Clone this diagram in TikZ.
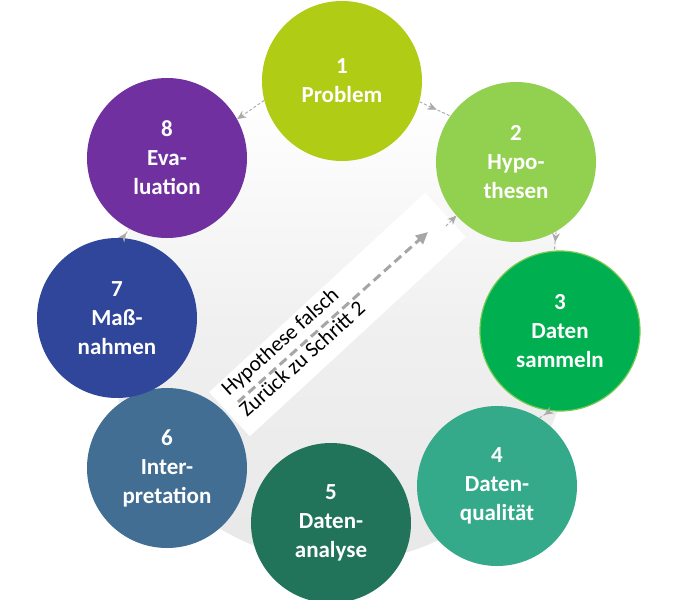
\documentclass[tikz,border=0pt]{standalone}
\usepackage{fontspec}
\setmainfont{Carlito}
\usetikzlibrary{arrows.meta,decorations.markings}
\definecolor{cA}{HTML}{B0CC14}
\definecolor{cB}{HTML}{92D050}
\definecolor{cC}{HTML}{00B050}
\definecolor{cD}{HTML}{34AA8A}
\definecolor{cE}{HTML}{21735A}
\definecolor{cF}{HTML}{426E94}
\definecolor{cG}{HTML}{2F469B}
\definecolor{cH}{HTML}{7030A0}
\definecolor{ringgray}{HTML}{A9A9A9}
\definecolor{bandgray}{HTML}{A6A6A6}
\begin{document}
\begin{tikzpicture}[x=1pt,y=-1pt,
  stepcirc/.style={circle, minimum size=160pt, inner sep=0pt, text=white,
    font=\fontsize{23}{29}\selectfont\bfseries, align=center},
  conn/.style={draw=ringgray, line width=0.9pt, dash pattern=on 3pt off 2pt,
    postaction={decorate},
    decoration={markings, mark=at position 0.55 with {\arrow{Stealth[length=9pt,width=8pt]}}}},
  connend/.style={draw=ringgray, line width=0.9pt, dash pattern=on 3pt off 2pt,
    -{Stealth[length=9pt,width=8pt]}},
  bandtext/.style={anchor=base west, rotate=42, inner sep=0pt,
    font=\fontsize{21.5}{26}\selectfont},
  bigdash/.style={draw=bandgray, line width=3pt, dash pattern=on 9pt off 5pt,
    -{Triangle[length=12pt,width=11pt]}}
]
\useasboundingbox (0,0) rectangle (694,600);
\fill[white] (0,0) rectangle (694,600);
% background disc
\shade[top color=white, bottom color=black!9, middle color=black!6] (340,330) circle (232);

% central banner
\node[rotate=42.7, minimum width=294pt, minimum height=60pt, fill=white, inner sep=0pt] (banner) at (337.5,314.5) {};
\coordinate (ba) at (238,402);
\coordinate (bb) at (428,232);
\draw[bigdash] (ba) -- (bb);
\node[bandtext] (t1) at (229,397) {Hypothese falsch};
\node[bandtext] (t2) at (247,418) {Zurück zu Schritt 2};

% circles
\node[stepcirc, fill=cA] (c1) at (342,81) {1\\Problem};
\node[stepcirc, fill=cB] (c2) at (516,162) {2\\Hypo-\\thesen};
\node[stepcirc, fill=cC, draw=cB!80!cC, line width=1.2pt] (c3) at (560,331) {3\\Daten\\sammeln};
\node[stepcirc, fill=cD] (c4) at (497,486) {4\\Daten-\\qualität};
\node[stepcirc, fill=cE] (c5) at (331,523) {5\\Daten-\\analyse};
\node[stepcirc, fill=cF] (c6) at (167,468) {6\\Inter-\\pretation};
\node[stepcirc, fill=cG] (c7) at (117,318) {7\\Maß-\\nahmen};
\node[stepcirc, fill=cH] (c8) at (167,158) {8\\Eva-\\luation};

% ring connectors
\draw[conn] (c1.-15) -- (c2.145);
\draw[conn] (c2.-60) -- (c3.94);
\draw[conn] (c3.-97) -- (c4.58);
\draw[conn] (c7.86) -- (c8.-118);
\draw[connend] (c1.194) -- (c8.29);
\coordinate (bc) at (446,226);
\draw[connend] (bc) -- (c2.222);
\end{tikzpicture}
\end{document}
